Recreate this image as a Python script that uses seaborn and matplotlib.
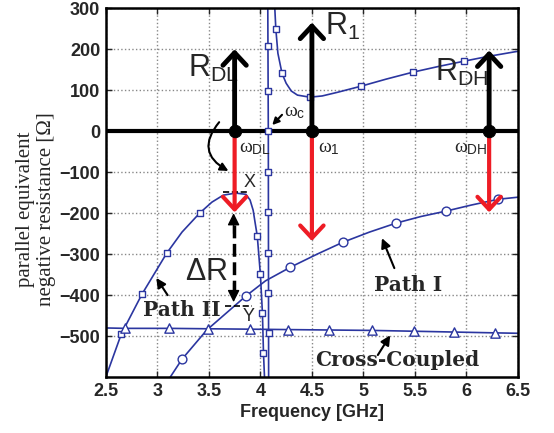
import matplotlib
matplotlib.use('Agg')
import matplotlib.pyplot as plt
import seaborn as sns

# ---- data ----
# Path II (squares): left branch, near-vertical branch, upper branch
p2a_f = [2.5, 2.65, 2.85, 3.09, 3.24, 3.41, 3.53, 3.64, 3.76, 3.86, 3.90, 3.93, 3.95, 3.97, 4.0, 4.02, 4.03, 4.04]
p2a_r = [-600, -495, -398, -298, -246, -200, -173, -156, -151, -154, -168, -193, -225, -256, -349, -444, -541, -600]
p2a_mf = [2.65, 2.85, 3.09, 3.41, 3.97, 4.0, 4.02, 4.03]
p2a_mr = [-495, -398, -298, -200, -256, -349, -444, -541]

p2b_f = [4.08, 4.077, 4.072]
p2b_r = [-600, 0, 300]
p2b_mf = [4.079, 4.078, 4.078, 4.077, 4.077, 4.077, 4.076, 4.075]
p2b_mr = [-493, -395, -298, -198, -100, 0, 98, 207]

p2c_f = [4.14, 4.15, 4.17, 4.21, 4.25, 4.30, 4.36, 4.48, 4.60, 4.75, 4.98, 5.22, 5.48, 5.73, 5.98, 6.20, 6.5]
p2c_r = [300, 249, 190, 141, 117, 98, 88, 83, 86, 95, 110, 127, 144, 158, 171, 182, 195]
p2c_mf = [4.15, 4.21, 4.48, 4.98, 5.48, 5.98]
p2c_mr = [249, 141, 83, 110, 144, 171]

# Path I (circles)
p1_f = [3.125, 3.24, 3.48, 3.86, 4.05, 4.29, 4.55, 4.8, 5.06, 5.32, 5.56, 5.8, 6.05, 6.31, 6.5]
p1_r = [-600, -556, -485, -402, -365, -332, -300, -271, -246, -224, -208, -195, -180, -166, -161]
p1_mf = [3.24, 3.86, 4.29, 4.8, 5.32, 5.8, 6.31]
p1_mr = [-556, -402, -332, -271, -224, -195, -166]

# Cross-coupled (triangles)
cc_f = [2.5, 2.69, 3.11, 3.49, 3.9, 4.27, 4.67, 5.08, 5.49, 5.88, 6.28, 6.5]
cc_r = [-480, -481, -481, -482, -483, -484, -485, -486, -488, -490, -492, -493]
cc_mf = cc_f[1:-1]
cc_mr = cc_r[1:-1]

# resistance arrows at omega_DL, omega_1, omega_DH
omega = [3.75, 4.5, 6.22]
r_pos = [200, 265, 197]
r_neg = [-198, -268, -198]

blue = '#2b36a0'
red = '#ee1c25'

sns.set_style('ticks')
plt.rcParams['font.family'] = ['Liberation Sans', 'DejaVu Sans']
plt.rcParams['mathtext.fontset'] = 'custom'
plt.rcParams['mathtext.rm'] = 'Liberation Sans'
plt.rcParams['mathtext.it'] = 'Liberation Serif'
plt.rcParams['mathtext.bf'] = 'Liberation Sans:bold'

fig = plt.figure(figsize=(5.54, 4.33), dpi=100)
ax = fig.add_axes([0.191, 0.129, 0.744, 0.852])

ax.grid(True, linestyle=':', color='#888888', linewidth=1)
ax.axhline(0, color='black', lw=3, zorder=3)

line_kw = dict(color=blue, lw=1.2, sort=False, estimator=None, legend=False, ax=ax)
mk_kw = dict(color='white', edgecolor=blue, linewidth=1, legend=False, ax=ax, zorder=5)

for f, r in [(p2a_f, p2a_r), (p2b_f, p2b_r), (p2c_f, p2c_r), (p1_f, p1_r), (cc_f, cc_r)]:
    sns.lineplot(x=f, y=r, **line_kw)

sns.scatterplot(x=p2a_mf + p2b_mf + p2c_mf, y=p2a_mr + p2b_mr + p2c_mr, marker='s', s=24, **mk_kw)
sns.scatterplot(x=p1_mf, y=p1_mr, marker='o', s=40, **mk_kw)
sns.scatterplot(x=cc_mf, y=cc_mr, marker='^', s=45, **mk_kw)

# up / down arrows
for w, rp, rn in zip(omega, r_pos, r_neg):
    ax.annotate('', xy=(w, rp), xytext=(w, 0),
                arrowprops=dict(arrowstyle='->,head_length=0.45,head_width=0.42',
                                lw=3.5, color='black', mutation_scale=20,
                                shrinkA=0, shrinkB=0), zorder=6)
    ax.annotate('', xy=(w, rn), xytext=(w, 0),
                arrowprops=dict(arrowstyle='->,head_length=0.45,head_width=0.42',
                                lw=3, color=red, mutation_scale=20,
                                shrinkA=0, shrinkB=0), zorder=6)
sns.scatterplot(x=omega, y=[0, 0, 0], color='black', s=80, edgecolor='black', ax=ax, zorder=7, legend=False)

# labels
big = 22
ax.text(3.30, 152, r'$\mathregular{R_{DL}}$', fontsize=big, va='center', ha='left')
ax.text(4.625, 256, r'$\mathregular{R_{1}}$', fontsize=big, va='center', ha='left')
ax.text(5.69, 144, r'$\mathregular{R_{DH}}$', fontsize=big, va='center', ha='left')
ax.text(3.79, -42, r'$\omega_{\mathregular{DL}}$', fontsize=14, va='center', ha='left')
ax.text(4.56, -42, r'$\omega_{\mathregular{1}}$', fontsize=14, va='center', ha='left')
ax.text(5.875, -42, r'$\omega_{\mathregular{DH}}$', fontsize=14, va='center', ha='left')
ax.text(4.23, 46, r'$\omega_{\mathregular{c}}$', fontsize=14, va='center', ha='left')
ax.annotate('', xy=(4.115, 15), xytext=(4.21, 40),
            arrowprops=dict(arrowstyle='-|>', color='black', lw=1.5, mutation_scale=10, shrinkA=0, shrinkB=0))

# curved arrow
ax.annotate('', xy=(3.69, -97), xytext=(3.60, 22),
            arrowprops=dict(arrowstyle='-|>', color='black', lw=1.5, mutation_scale=12,
                            connectionstyle='arc3,rad=0.6', shrinkA=0, shrinkB=0))

# X / Y markers and Delta R
ax.plot([3.64, 3.88], [-148, -148], color='black', ls='--', lw=1.2)
ax.text(3.90, -124, 'X', fontsize=13, ha='center', va='center')
ax.plot([3.66, 3.92], [-427, -427], color='black', ls='--', lw=1.2)
ax.text(3.89, -452, 'Y', fontsize=13, ha='center', va='center')
ax.plot([3.74, 3.74], [-230, -390], color='black', ls='--', lw=2.5)
for yt, yh in [(-250, -200), (-370, -417)]:
    ax.annotate('', xy=(3.74, yh), xytext=(3.74, yt),
                arrowprops=dict(arrowstyle='-|>', color='black', lw=1, mutation_scale=18, shrinkA=0, shrinkB=0))
ax.text(3.48, -344, r'$\mathregular{\Delta R}$', fontsize=big, ha='center', va='center')

# path labels
serif_bold = dict(family='DejaVu Serif', fontweight='heavy', fontsize=14.5, ha='center', va='center')
ax.text(3.24, -436, 'Path II', **serif_bold)
ax.text(5.43, -375, 'Path I', **serif_bold)
ax.text(5.33, -558, 'Cross-Coupled', **serif_bold)
for tail, head in [((3.10, -400), (2.99, -358)), ((5.30, -334), (5.18, -261)), ((5.14, -546), (5.26, -498))]:
    ax.annotate('', xy=head, xytext=tail,
                arrowprops=dict(arrowstyle='-|>', color='black', lw=1.5, mutation_scale=14, shrinkA=0, shrinkB=0))

ax.set_xlim(2.5, 6.5)
ax.set_ylim(-600, 300)
ax.set_xticks([2.5, 3, 3.5, 4, 4.5, 5, 5.5, 6, 6.5])
ax.set_xticklabels(['2.5', '3', '3.5', '4', '4.5', '5', '5.5', '6', '6.5'])
ax.set_yticks([-500, -400, -300, -200, -100, 0, 100, 200, 300])
ax.tick_params(direction='in', top=True, right=True, length=4, width=1, labelsize=13, pad=4)
for lab in ax.get_xticklabels() + ax.get_yticklabels():
    lab.set_fontweight('bold')
for sp in ax.spines.values():
    sp.set_linewidth(1.8)
    sp.set_color('black')

ax.set_xlabel('Frequency [GHz]', fontsize=13, fontweight='bold', labelpad=3)
ax.set_ylabel('parallel equivalent\nnegative resistance [\u03a9]', family='Liberation Serif',
              fontsize=15, linespacing=1.15)
ax.yaxis.set_label_coords(-0.12, 0.455)

fig.savefig('out.png', dpi=100)
